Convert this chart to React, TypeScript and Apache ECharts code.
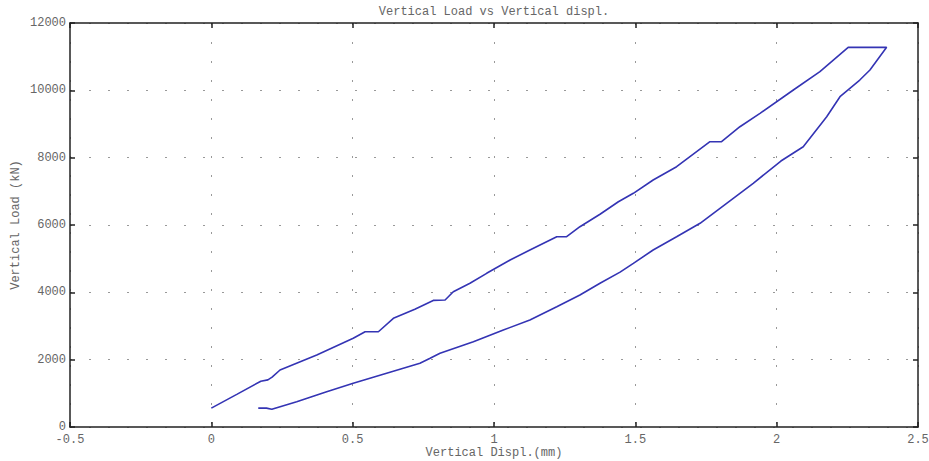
import React, { useEffect, useRef } from "react";
import * as echarts from "echarts";

// Loading branch: displacement (mm) and vertical load (kN)
const loadingDispl = [
  0, 0.09, 0.175, 0.2, 0.215, 0.243, 0.373, 0.502, 0.544, 0.591, 0.644, 0.72,
  0.785, 0.827, 0.856, 0.915, 0.974, 1.057, 1.127, 1.222, 1.257, 1.304, 1.375,
  1.44, 1.493, 1.563, 1.646, 1.764, 1.805, 1.87, 1.941, 2.059, 2.153, 2.253, 2.389,
];
const loadingLoad = [
  560, 970, 1360, 1400, 1480, 1693, 2138, 2634, 2830, 2830, 3229, 3500,
  3760, 3772, 4019, 4268, 4565, 4960, 5257, 5652, 5652, 5949, 6320,
  6691, 6941, 7336, 7731, 8474, 8474, 8919, 9317, 10009, 10553, 11277, 11277,
];

// Unloading branch, from peak back to the residual point
const unloadingDispl = [
  2.389, 2.33, 2.294, 2.224, 2.177, 2.094, 2.015, 1.917, 1.823, 1.729, 1.646,
  1.563, 1.493, 1.446, 1.375, 1.304, 1.222, 1.127, 1.033, 0.927, 0.809, 0.774,
  0.738, 0.62, 0.502, 0.408, 0.302, 0.214, 0.195, 0.166,
];
const unloadingLoad = [
  11277, 10603, 10306, 9810, 9216, 8325, 7900, 7238, 6644, 6050, 5652,
  5257, 4862, 4600, 4268, 3920, 3573, 3178, 2881, 2534, 2189, 2040,
  1892, 1594, 1297, 1049, 752, 525, 560, 560,
];

const xTicks = { min: -0.5, max: 2.5, interval: 0.5 };
const yTicks = { min: 0, max: 12000, interval: 2000 };

const TITLE = "Vertical Load vs Vertical displ.";
const X_NAME = "Vertical Displ.(mm)";
const Y_NAME = "Vertical Load (kN)";

const FONT = "'Liberation Mono', 'DejaVu Sans Mono', monospace";
const TEXT_COLOR = "#666";

export default function App() {
  const ref = useRef<HTMLDivElement>(null);

  useEffect(() => {
    document.body.style.margin = "0";
    if (!ref.current) return;
    const chart = echarts.init(ref.current, null, { renderer: "svg" });

    const hysteresis: [number, number][] = [
      ...loadingDispl.map((x, i) => [x, loadingLoad[i]] as [number, number]),
      ...unloadingDispl.map((x, i) => [x, unloadingLoad[i]] as [number, number]),
    ];

    const frameLine = { show: true, onZero: false, lineStyle: { color: "#222", width: 1.5 } };
    const innerTick = { show: true, inside: true, length: 5, lineStyle: { color: "#222", width: 1.5 } };
    const dotted = { show: true, lineStyle: { color: "#999", width: 1, type: [2, 17] as number[] } };
    const label = { color: TEXT_COLOR, fontFamily: FONT, fontSize: 12, lineHeight: 12 };
    const textStyle = (text: string) => ({
      text,
      fill: TEXT_COLOR,
      font: `12px ${FONT}`,
      lineHeight: 12,
      textAlign: "center",
      textVerticalAlign: "middle",
    });

    chart.setOption({
      animation: false,
      backgroundColor: "#fff",
      grid: { left: 70, right: 11, top: 23, bottom: 34, containLabel: false, outerBoundsMode: "none" },
      graphic: [
        { type: "text", x: 494, y: 12, style: textStyle(TITLE) },
        { type: "text", x: 494, y: 453, style: textStyle(X_NAME) },
        { type: "text", x: 16, y: 225, rotation: Math.PI / 2, style: textStyle(Y_NAME) },
      ],
      xAxis: [
        {
          type: "value",
          ...xTicks,
          position: "bottom",
          axisLine: frameLine,
          axisTick: innerTick,
          axisLabel: { ...label, margin: 7, formatter: (v: number) => String(v) },
          splitLine: dotted,
        },
        {
          type: "value",
          ...xTicks,
          position: "top",
          axisLine: frameLine,
          axisTick: innerTick,
          axisLabel: { show: false },
          splitLine: { show: false },
        },
      ],
      yAxis: [
        {
          type: "value",
          ...yTicks,
          position: "left",
          axisLine: frameLine,
          axisTick: innerTick,
          axisLabel: { ...label, margin: 4, formatter: (v: number) => String(v) },
          splitLine: dotted,
        },
        {
          type: "value",
          ...yTicks,
          position: "right",
          axisLine: frameLine,
          axisTick: innerTick,
          axisLabel: { show: false },
          splitLine: { show: false },
        },
      ],
      series: [
        {
          type: "line",
          data: hysteresis,
          showSymbol: false,
          smooth: false,
          lineStyle: { color: "#3434b4", width: 1.6 },
        },
      ],
    });

    return () => chart.dispose();
  }, []);

  return <div ref={ref} style={{ width: 929, height: 461 }} />;
}
